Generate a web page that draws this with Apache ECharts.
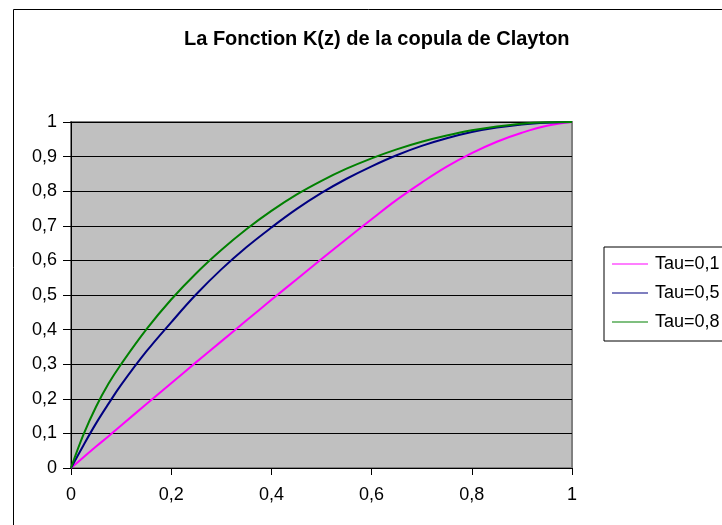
<!DOCTYPE html>
<html>
<head>
<meta charset="utf-8">
<script src="https://cdn.jsdelivr.net/npm/echarts@6/dist/echarts.min.js"></script>
<style>
html,body{margin:0;padding:0;background:#fff;}
#chart{width:722px;height:525px;}
</style>
</head>
<body>
<div id="chart"></div>
<script>
// Data
const zValues = [0, 0.025, 0.05, 0.075, 0.1, 0.15, 0.2, 0.25, 0.3, 0.35, 0.4, 0.45, 0.5, 0.55, 0.6, 0.65, 0.7, 0.75, 0.8, 0.85, 0.9, 0.95, 1];
const tau01 = [0, 0.031, 0.062, 0.092, 0.123, 0.184, 0.245, 0.306, 0.366, 0.426, 0.486, 0.545, 0.604, 0.662, 0.719, 0.775, 0.825, 0.871, 0.910, 0.943, 0.969, 0.989, 1];
const tau05 = [0, 0.066, 0.129, 0.186, 0.240, 0.336, 0.421, 0.502, 0.574, 0.638, 0.695, 0.748, 0.795, 0.836, 0.872, 0.904, 0.931, 0.953, 0.971, 0.984, 0.993, 0.998, 1];
const tau08 = [0, 0.097, 0.177, 0.244, 0.300, 0.400, 0.487, 0.563, 0.630, 0.690, 0.743, 0.790, 0.830, 0.865, 0.895, 0.921, 0.943, 0.961, 0.976, 0.987, 0.995, 0.999, 1];
const seriesNames = ['Tau=0,1', 'Tau=0,5', 'Tau=0,8'];
const seriesColors = ['#FF00FF', '#000080', '#008000'];
const titleText = 'La Fonction K(z) de la copula de Clayton';

const fontFam = '"Liberation Sans", Arial, sans-serif';
const fmt = v => String(Math.round(v * 10) / 10).replace('.', ',');
const pairs = arr => zValues.map((z, i) => [z, arr[i]]);
const allData = [tau01, tau05, tau08];

const chart = echarts.init(document.getElementById('chart'), null, {renderer: 'canvas'});
chart.setOption({
  animation: false,
  backgroundColor: '#ffffff',
  graphic: [{
    type: 'rect', left: 11, top: 7, z: -1,
    shape: {width: 800, height: 600},
    style: {fill: 'none', stroke: '#000', lineWidth: 1}
  }],
  title: {
    text: titleText, left: 179, top: 24,
    textStyle: {fontFamily: fontFam, fontSize: 20, fontWeight: 'bold', color: '#000'}
  },
  legend: {
    orient: 'vertical', left: 604, top: 247,
    padding: [8, 60, 10, 8], itemGap: 11,
    itemWidth: 36, itemHeight: 1, icon: 'rect',
    borderColor: '#000', borderWidth: 1, backgroundColor: '#fff',
    textStyle: {fontFamily: fontFam, fontSize: 18, color: '#000', padding: [0, 0, 0, 2]},
    data: seriesNames
  },
  grid: {left: 71, right: 150, top: 122, bottom: 57, show: true,
         backgroundColor: '#C0C0C0', borderColor: '#808080', borderWidth: 2},
  xAxis: {
    type: 'value', min: 0, max: 1, interval: 0.2,
    axisLine: {show: true, onZero: false, lineStyle: {color: '#000', width: 1}},
    axisTick: {show: true, length: 7, lineStyle: {color: '#000'}},
    axisLabel: {margin: 18, formatter: fmt, fontFamily: fontFam, fontSize: 18, color: '#000'},
    splitLine: {show: false}
  },
  yAxis: {
    type: 'value', min: 0, max: 1, interval: 0.1,
    axisLine: {show: true, lineStyle: {color: '#000', width: 1}},
    axisTick: {show: true, length: 8, lineStyle: {color: '#000'}},
    axisLabel: {margin: 14, formatter: fmt, fontFamily: fontFam, fontSize: 18, color: '#000'},
    splitLine: {show: true, lineStyle: {color: '#000', width: 1}}
  },
  series: seriesNames.map((name, i) => ({
    name, type: 'line', data: pairs(allData[i]), smooth: 0.4,
    showSymbol: false, symbol: 'none',
    lineStyle: {color: seriesColors[i], width: 2},
    itemStyle: {color: seriesColors[i]}
  }))
});
</script>
</body>
</html>
